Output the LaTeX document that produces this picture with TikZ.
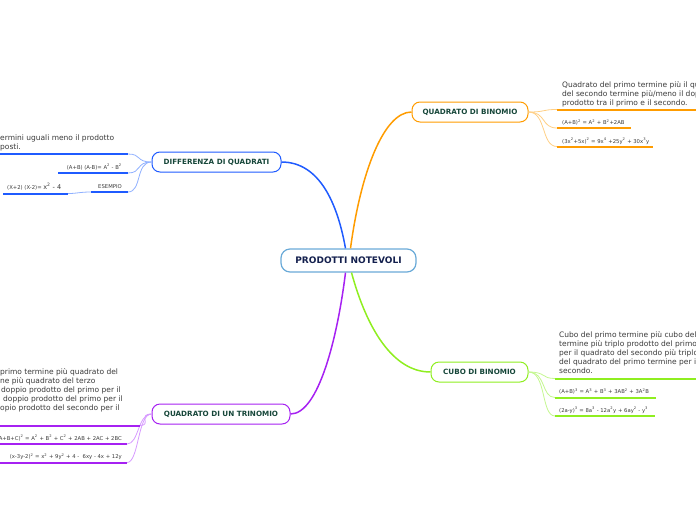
\documentclass[tikz,border=0pt]{standalone}
\usepackage{fontspec}
\setmainfont{DejaVu Sans}
\definecolor{cblue}{HTML}{1F5BFF}
\definecolor{cbluel}{HTML}{8FB0FF}
\definecolor{corange}{HTML}{FF9C00}
\definecolor{corangel}{HTML}{FFCF85}
\definecolor{cgreen}{HTML}{8FEE20}
\definecolor{cgreenl}{HTML}{C4F790}
\definecolor{cpurple}{HTML}{A621F2}
\definecolor{cpurplel}{HTML}{D79BFF}
\definecolor{ccentral}{HTML}{6AAAD8}
\definecolor{navy}{HTML}{14204E}
\definecolor{nodegreen}{HTML}{17473A}
\definecolor{bodygray}{HTML}{3A3A3A}
\begin{document}
\begin{tikzpicture}[x=1pt,y=-1pt,
  mainbox/.style={draw=#1, line width=1pt, rounded corners=8pt, fill=white,
    minimum height=20pt, inner sep=0pt, font=\fontsize{7.2}{8}\selectfont\bfseries, text=nodegreen},
  bodyline/.style={anchor=base west, inner sep=0pt, font=\fontsize{7.5}{9}\selectfont, text=bodygray},
  formula/.style={inner sep=0pt, font=\fontsize{5.3}{6}\selectfont, text=bodygray},
  uline/.style={line width=2pt, draw=#1},
  branch/.style={line width=0.8pt, draw=#1},
  trunk/.style={line width=1.5pt, draw=#1},
]
\path[use as bounding box] (0,0) rectangle (696,520);
\clip (0,0) rectangle (696,520);

% main nodes
\node[draw=ccentral, line width=1.2pt, rounded corners=9pt, fill=white, minimum width=135pt,
  minimum height=23pt, inner sep=0pt, font=\fontsize{9}{10}\selectfont\bfseries, text=navy]
  (c) at (348.5,260.5) {PRODOTTI NOTEVOLI};
\node[mainbox=corange, minimum width=116pt] (qb) at (470,112) {QUADRATO DI BINOMIO};
\node[mainbox=cblue, minimum width=129pt] (dq) at (216.5,162) {DIFFERENZA DI QUADRATI};
\node[mainbox=cgreen, minimum width=97pt] (cb) at (479.5,372) {CUBO DI BINOMIO};
\node[mainbox=cpurple, minimum width=138pt] (tr) at (221,414) {QUADRATO DI UN TRINOMIO};

% trunks
\draw[trunk=cblue] ([xshift=-3pt]c.north) .. controls +(-8,-45) and +(38,0) .. (dq.east);
\draw[trunk=corange] ([xshift=2pt]c.north) .. controls +(10,-75) and +(-28,0) .. (qb.west);
\draw[trunk=cpurple] ([xshift=-3pt]c.south) .. controls +(-8,65) and +(28,0) .. (tr.east);
\draw[trunk=cgreen] ([xshift=3pt]c.south) .. controls +(15,55) and +(-38,0) .. (cb.west);

% ---------- QUADRATO DI BINOMIO ----------
\coordinate (qa1) at (557,109.5); \coordinate (qa2) at (696,109.5);
\coordinate (qb1) at (557,128); \coordinate (qb2) at (631,128);
\coordinate (qc1) at (557,146.5); \coordinate (qc2) at (653,146.5);
\foreach \t [count=\i] in {Quadrato del primo termine più il quadrato,
  del secondo termine più/meno il doppio, prodotto tra il primo e il secondo.}
  \node[bodyline] (qt\i) at (562,{87.5+9*(\i-1)}) {\t};
\node[formula, anchor=base west] (qf1) at (562,124.5)
  {(A+B)\textsuperscript{2} = A\textsuperscript{2} + B\textsuperscript{2}+2AB};
\node[formula, anchor=base west] (qf2) at (562,143)
  {(3x\textsuperscript{2}+5x)\textsuperscript{2} = 9x\textsuperscript{4} +25y\textsuperscript{2} + 30x\textsuperscript{3}y};
\foreach \a in {qa1,qb1,qc1}
  \draw[branch=corangel] (qb.east) .. controls +(18,0) and +(-16,0) .. (\a);
\draw[uline=corange] (qa1) -- (qa2);
\draw[uline=corange] (qb1) -- (qb2);
\draw[uline=corange] (qc1) -- (qc2);

% ---------- DIFFERENZA DI QUADRATI ----------
\coordinate (da1) at (128,154); \coordinate (da2) at (0,154);
\coordinate (db1) at (128,173); \coordinate (db2) at (58,173);
\coordinate (dc1) at (128,192); \coordinate (dc2) at (91,192);
\coordinate (dd1) at (68,193.5); \coordinate (dd2) at (3,193.5);
\node[bodyline] (dt1) at (0,140.5) {ermini uguali meno il prodotto};
\node[bodyline] (dt2) at (0,149.5) {posti.};
\node[formula, anchor=base east] (df1) at (122,169)
  {(A+B) (A-B)= A\textsuperscript{2} - B\textsuperscript{2}};
\node[formula, anchor=base east] (df2) at (122,188.5) {ESEMPIO};
\node[formula, anchor=base west] (df3) at (7,189.5)
  {(X+2) (X-2)= {\fontsize{6.5}{7}\selectfont x\textsuperscript{2} - 4}};
\foreach \a in {da1,db1,dc1}
  \draw[branch=cbluel] (dq.west) .. controls +(-16,0) and +(14,0) .. (\a);
\draw[branch=cbluel] (dc2) .. controls +(-12,0) and +(10,0) .. (dd1);
\draw[uline=cblue] (da1) -- (da2);
\draw[uline=cblue] (db1) -- (db2);
\draw[uline=cblue] (dc1) -- (dc2);
\draw[uline=cblue] (dd1) -- (dd2);

% ---------- CUBO DI BINOMIO ----------
\coordinate (ca1) at (555,378.5); \coordinate (ca2) at (696,378.5);
\coordinate (cb1) at (555,397.5); \coordinate (cb2) at (656,397.5);
\coordinate (cc1) at (555,416); \coordinate (cc2) at (655,416);
\foreach \t [count=\i] in {Cubo del primo termine più cubo del secondo,
  termine più triplo prodotto del primo termine, per il quadrato del secondo più triplo prodotto,
  del quadrato del primo termine per il, secondo.}
  \node[bodyline] (ct\i) at (559,{337.5+9*(\i-1)}) {\t};
\node[formula, anchor=base west] (cf1) at (559,393.5)
  {(A+B)\textsuperscript{3} = A\textsuperscript{3} + B\textsuperscript{3} + 3AB\textsuperscript{2} + 3A\textsuperscript{2}B};
\node[formula, anchor=base west] (cf2) at (559,412)
  {(2a-y)\textsuperscript{3} = 8a\textsuperscript{3} - 12a\textsuperscript{2}y + 6ay\textsuperscript{2} - y\textsuperscript{3}};
\foreach \a in {ca1,cb1,cc1}
  \draw[branch=cgreenl] (cb.east) .. controls +(18,0) and +(-14,0) .. (\a);
\draw[uline=cgreen] (ca1) -- (ca2);
\draw[uline=cgreen] (cb1) -- (cb2);
\draw[uline=cgreen] (cc1) -- (cc2);

% ---------- QUADRATO DI UN TRINOMIO ----------
\coordinate (ta1) at (140,425.5); \coordinate (ta2) at (0,425.5);
\coordinate (tb1) at (127,444); \coordinate (tb2) at (0,444);
\coordinate (tc1) at (127,462.5); \coordinate (tc2) at (0,462.5);
\node[bodyline] (tt1) at (0,374.5) {primo termine più quadrato del};
\node[bodyline] (tt2) at (0,383.5) {ne più quadrato del terzo};
\node[bodyline] (tt3) at (1,392.5) {doppio prodotto del primo per il};
\node[bodyline] (tt4) at (3,401.5) {doppio prodotto del primo per il};
\node[bodyline] (tt5) at (0,410.5) {opio prodotto del secondo per il};
\node[formula, anchor=base east] (tf1) at (122,440)
  {(A+B+C)\textsuperscript{2} = A\textsuperscript{2} + B\textsuperscript{2} + C\textsuperscript{2} + 2AB + 2AC + 2BC};
\node[formula, anchor=base east] (tf2) at (122,458.5)
  {(x-3y-2)\textsuperscript{2} = x\textsuperscript{2} + 9y\textsuperscript{2} + 4 -\ \ 6xy - 4x + 12y};
\foreach \a in {ta1,tb1,tc1}
  \draw[branch=cpurplel] (tr.west) .. controls +(-14,0) and +(12,0) .. (\a);
\draw[uline=cpurple] (ta1) -- (ta2);
\draw[uline=cpurple] (tb1) -- (tb2);
\draw[uline=cpurple] (tc1) -- (tc2);
\end{tikzpicture}
\end{document}
